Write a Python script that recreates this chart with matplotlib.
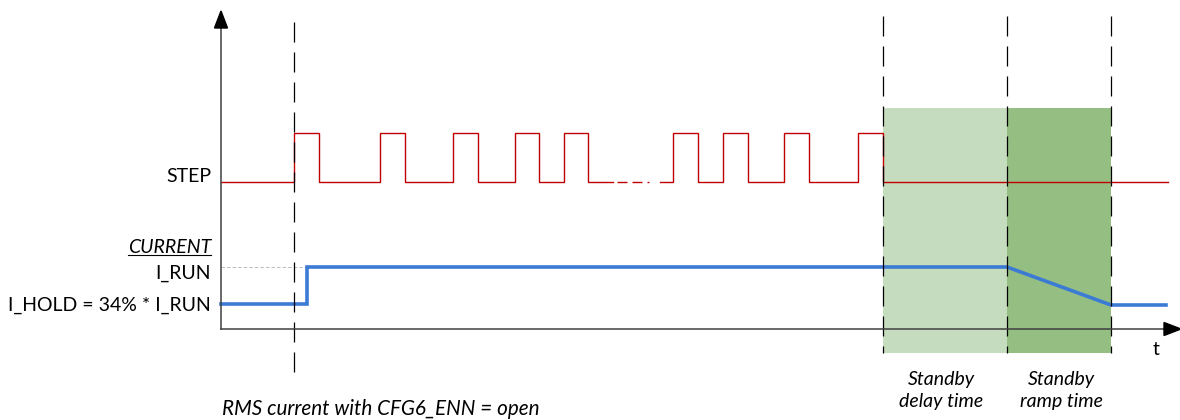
import matplotlib
matplotlib.use('Agg')
import matplotlib.pyplot as plt
from matplotlib.patches import Polygon, Rectangle

plt.rcParams['font.family'] = ['Lato', 'DejaVu Sans']
plt.rcParams['lines.scale_dashes'] = False

# ---- data (schematic time / level units) ----
step_rise = [294, 380, 453, 515, 564, 673, 723, 784, 858]
step_fall = [319, 405, 478, 539, 588, 698, 748, 809, 883]
step_start, step_end = 221, 1168
step_low, step_high = 182, 133
gap_start, gap_end = 613, 660          # elided pulses ("...")
cur_t = [221, 307, 307, 1007, 1111, 1166]
cur_level = [304, 304, 267, 267, 305, 305]
i_run_level = 267
marker_t = [294, 883, 1007, 1111]
delay_phase = (883, 1007)
ramp_phase = (1007, 1111)
shade_top, shade_bottom = 108, 353
axis_origin = (221, 329)

fig = plt.figure(figsize=(11.8, 4.2), dpi=100)
ax = fig.add_axes([0, 0, 1, 1])
ax.set_xlim(0, 1180)
ax.set_ylim(420, 0)
ax.axis('off')

RED = '#C00000'
BLUE = '#3B7BD4'
AXC = '#404040'

# shaded phases
ax.add_patch(Rectangle((delay_phase[0], shade_top), delay_phase[1] - delay_phase[0],
                       shade_bottom - shade_top, facecolor='#C6DCBE', edgecolor='none', zorder=1))
ax.add_patch(Rectangle((ramp_phase[0], shade_top), ramp_phase[1] - ramp_phase[0],
                       shade_bottom - shade_top, facecolor='#95BE83', edgecolor='none', zorder=1))

# step waveform
def wave(rises, falls, x0, x1):
    xs, ys = [x0], [step_low]
    for r, f in zip(rises, falls):
        xs += [r, r, f, f]
        ys += [step_low, step_high, step_high, step_low]
    xs.append(x1)
    ys.append(step_low)
    return xs, ys

first = [(r, f) for r, f in zip(step_rise, step_fall) if r < gap_start]
second = [(r, f) for r, f in zip(step_rise, step_fall) if r >= gap_end]
x1, y1 = wave([a for a, _ in first], [b for _, b in first], step_start, gap_start)
x2, y2 = wave([a for a, _ in second], [b for _, b in second], gap_end, step_end)
ax.plot(x1, y1, color=RED, lw=1.0, zorder=3, solid_joinstyle='miter')
ax.plot(x2, y2, color=RED, lw=1.0, zorder=3, solid_joinstyle='miter')
ax.plot([gap_start + 4, gap_end - 11], [step_low, step_low], color=RED, lw=1.0, zorder=3,
        linestyle=(0, (7.2, 3.6, 7.2, 3.6, 1.4, 30)), dash_capstyle='butt')

# current
ax.plot([axis_origin[0], cur_t[2]], [i_run_level, i_run_level], color='#BBBBBB', lw=0.7,
        linestyle=(0, (2.5, 1.5)), zorder=2)
ax.plot(cur_t, cur_level, color=BLUE, lw=2.6, zorder=4, solid_joinstyle='miter')

# vertical dashed markers
for i, t in enumerate(marker_t):
    top, bot = (22, 372) if i == 0 else (16, 353)
    ax.plot([t, t], [top, bot], color='black', lw=0.9, linestyle=(0, (14.4, 7.2)), zorder=5)

# axes with arrows
ox, oy = axis_origin
ax.plot([ox, ox], [oy, 27], color=AXC, lw=1.1, zorder=6)
ax.plot([ox, 1167], [oy, oy], color=AXC, lw=1.1, zorder=6)
ax.add_patch(Polygon([(ox, 11), (ox - 6.5, 28), (ox + 6.5, 28)], closed=True, color='black', zorder=7))
ax.add_patch(Polygon([(1181, oy), (1164, oy - 6.5), (1164, oy + 6.5)], closed=True, color='black', zorder=7))

FS = 14
ax.text(211, step_low, 'STEP', ha='right', va='baseline', fontsize=FS)
cur_txt = ax.text(211, 253, 'CURRENT', ha='right', va='baseline', fontsize=FS, style='italic')
ax.text(211, 279, 'I_RUN', ha='right', va='baseline', fontsize=FS)
ax.text(211, 311, 'I_HOLD = 34% * I_RUN', ha='right', va='baseline', fontsize=FS)
ax.text(1156, 355, 't', ha='center', va='baseline', fontsize=FS)
ax.text(941, 385, 'Standby', ha='center', va='baseline', fontsize=FS, style='italic')
ax.text(941, 407, 'delay time', ha='center', va='baseline', fontsize=FS, style='italic')
ax.text(1061, 385, 'Standby', ha='center', va='baseline', fontsize=FS, style='italic')
ax.text(1061, 407, 'ramp time', ha='center', va='baseline', fontsize=FS, style='italic')
ax.text(222, 415, 'RMS current with CFG6_ENN = open', ha='left', va='baseline', fontsize=14.9,
        style='italic')

# underline CURRENT
fig.canvas.draw()
bb = cur_txt.get_window_extent().transformed(ax.transData.inverted())
ax.plot([bb.x0, bb.x1], [255, 255], color='black', lw=0.8)

fig.savefig('out.png', dpi=100)
